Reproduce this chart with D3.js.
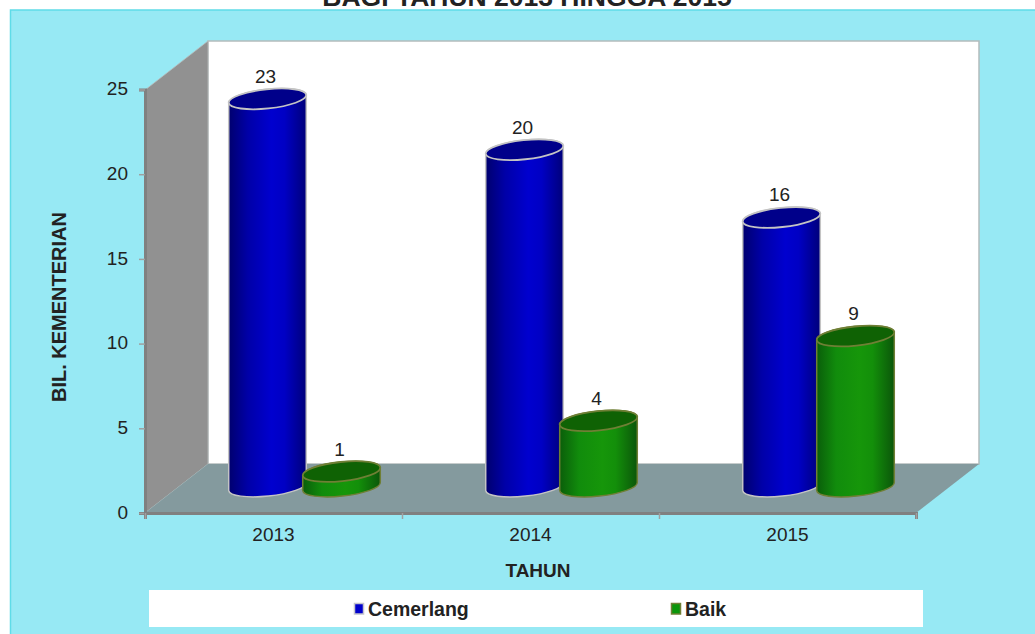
<!DOCTYPE html>
<html><head><meta charset="utf-8">
<script src="https://cdn.jsdelivr.net/npm/d3@7/dist/d3.min.js"></script>
<style>html,body{margin:0;padding:0;background:#fff;overflow:hidden}svg{display:block}text{font-family:"Liberation Sans",Arial,sans-serif;fill:#222}</style>
</head><body><svg id="c" width="1035" height="634"></svg>
<script>
const categories = ["2013","2014","2015"];
const seriesNames = ["Cemerlang","Baik"];
const cemerlang = [23,20,16];
const baik = [1,4,9];
const yTicks = [0,5,10,15,20,25];
const chartTitle = "BAGI TAHUN 2013 HINGGA 2015";
const yTitle = "BIL. KEMENTERIAN";
const xTitle = "TAHUN";

const svg = d3.select("#c");
const L=145,R=916,B=513,T=90,DX=63,DY=49;
const x = d3.scaleBand().domain(categories).range([L,R]);
const inner = d3.scaleBand().domain(seriesNames).range([-74,74]);
const y = d3.scaleLinear().domain([0,25]).range([B,T-.5]);
const barDx=31, barDy=24.5, rx=39, ry=9.6, tilt=6;
const cosT=Math.cos(tilt*Math.PI/180), sinT=Math.sin(tilt*Math.PI/180);

const styles = {
  Cemerlang:{stops:["#00006e","#0000a8","#0000cf","#0000c4","#00007a"],top:"#00008a",stroke:"#c4c4c4",sw:"#0000cc",swb:"#c4c4cc"},
  Baik:{stops:["#0a5e0a","#118c0c","#16960a","#138f0a","#0b560a"],top:"#0f6204",stroke:"#6f7f35",sw:"#0a960a",swb:"#6f7f35"}
};
const defs = svg.append("defs");
for(const k of seriesNames){
  const g = defs.append("linearGradient").attr("id","g"+k);
  styles[k].stops.forEach((c,i)=>g.append("stop").attr("offset",[0,.25,.55,.72,1][i]).attr("stop-color",c));
}

svg.append("rect").attr("x",10.5).attr("y",10).attr("width",1030).attr("height",630)
  .attr("fill","#97e9f4").attr("stroke","#5fdce8").attr("stroke-width",1.5);

svg.append("text").attr("x",527).attr("y",6).attr("text-anchor","middle")
  .attr("font-size",26.5).attr("font-weight","bold").text(chartTitle);

const pts = a=>a.map(p=>p.join(",")).join(" ");
svg.append("polygon").attr("points",pts([[L+DX,T-DY],[R+DX,T-DY],[R+DX,B-DY],[L+DX,B-DY]]))
  .attr("fill","#fff").attr("stroke","#b4bcbc").attr("stroke-width",1.5);
svg.append("polygon").attr("points",pts([[L,T],[L+DX,T-DY],[L+DX,B-DY],[L,B]]))
  .attr("fill","#919191").attr("stroke","#b8bcbc").attr("stroke-width",.8);
svg.append("polygon").attr("points",pts([[L,B],[L+DX,B-DY],[R+DX,B-DY],[R,B]]))
  .attr("fill","#849a9e");

const ax = svg.append("g").attr("transform",`translate(${L},0)`)
  .call(d3.axisLeft(y).tickValues(yTicks).tickSize(6).tickPadding(11));
ax.selectAll(".tick text").attr("dy","0.27em");
const edge = d3.scaleLinear().domain([0,categories.length]).range([L,R]);
const bx = svg.append("g").attr("transform",`translate(0,${B})`)
  .call(d3.axisBottom(edge).ticks(categories.length).tickFormat("").tickSize(6));
const lx = svg.append("g").attr("transform",`translate(0,${B+1})`)
  .call(d3.axisBottom(x).tickSize(0).tickPadding(14));
lx.select(".domain").remove();
for(const g of [ax,bx]){
  g.select(".domain").attr("stroke","#808080").attr("stroke-width",3);
  g.selectAll(".tick line").attr("stroke","#a0a0a0").attr("stroke-width",1.5);
}
for(const g of [ax,lx]) g.selectAll("text").attr("font-size",19).attr("font-family",'"Liberation Sans",Arial,sans-serif').attr("fill","#222");

const rows = categories.flatMap((c,i)=>[
  {c,s:"Cemerlang",v:cemerlang[i]},{c,s:"Baik",v:baik[i]}
]);
const bars = svg.selectAll("g.bar").data(rows).join("g").attr("class","bar");
bars.each(function(d){
  const st=styles[d.s], g=d3.select(this);
  const cx=x(d.c)+x.bandwidth()/2+inner(d.s)+inner.bandwidth()/2+barDx;
  const top=y(d.v)-barDy, base=y(0)-barDy-2;
  const lxx=cx-rx*cosT, rxx=cx+rx*cosT, off=rx*sinT;
  const arc=`A${rx},${ry} ${-tilt} 0 0`;
  g.append("path").attr("d",`M${lxx},${top+off}L${lxx},${base+off}${arc} ${rxx},${base-off}L${rxx},${top-off}${arc} ${lxx},${top+off}Z`)
    .attr("fill",`url(#g${d.s})`).attr("stroke",st.stroke).attr("stroke-width",1.5);
  g.append("ellipse").attr("rx",rx).attr("ry",ry)
    .attr("transform",`translate(${cx},${top}) rotate(${-tilt})`)
    .attr("fill",st.top).attr("stroke",st.stroke).attr("stroke-width",1.8);
  g.append("text").attr("x",cx-2).attr("y",top-16).attr("text-anchor","middle").attr("font-size",19).text(d.v);
});

svg.append("text").attr("transform","translate(65.5,307) rotate(-90)").attr("text-anchor","middle")
  .attr("font-size",20).attr("font-weight","bold").text(yTitle);
svg.append("text").attr("x",538).attr("y",577).attr("text-anchor","middle")
  .attr("font-size",19).attr("font-weight","bold").text(xTitle);

svg.append("rect").attr("x",149).attr("y",590).attr("width",774).attr("height",37).attr("fill","#fff");
const legendX = d3.scalePoint().domain(seriesNames).range([354,671]);
const lg = svg.selectAll("g.leg").data(seriesNames).join("g").attr("class","leg")
  .attr("transform",d=>`translate(${legendX(d)},603)`);
lg.append("rect").attr("x",.5).attr("y",.5).attr("width",9).attr("height",10.5)
  .attr("fill",d=>styles[d].sw).attr("stroke",d=>styles[d].swb).attr("stroke-width",1.5);
lg.append("text").attr("x",14).attr("y",12.5).attr("font-size",19.5).attr("font-weight","bold").text(d=>d);
</script></body></html>
